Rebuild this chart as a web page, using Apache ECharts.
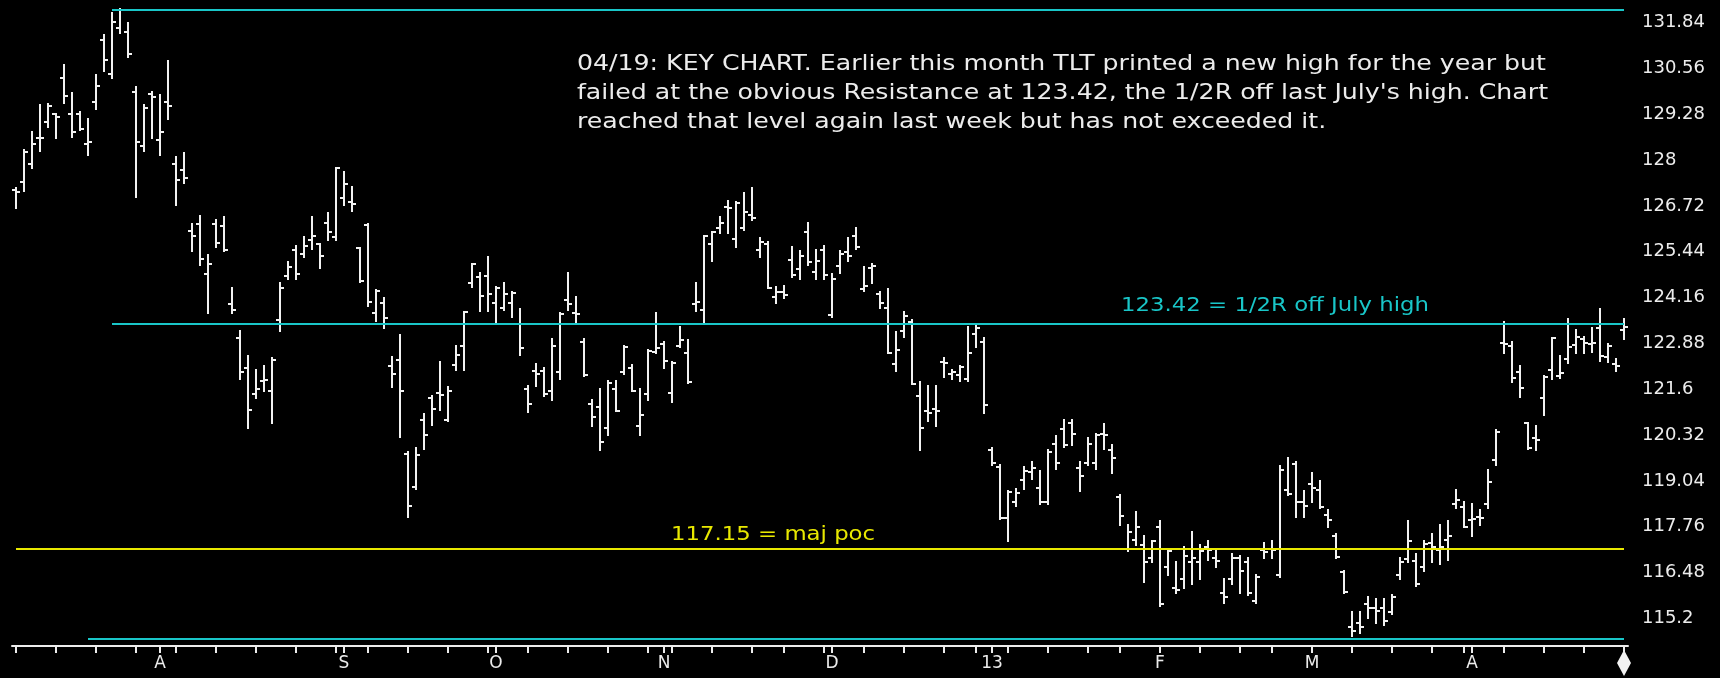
<!DOCTYPE html>
<html>
<head>
<meta charset="utf-8">
<title>TLT daily</title>
<script src="https://cdn.jsdelivr.net/npm/echarts@6/dist/echarts.min.js"></script>
<style>
  html, body { margin: 0; padding: 0; background: #000; }
  #chart { width: 1720px; height: 678px; }
</style>
</head>
<body>
<div id="chart"></div>
<script>
// Trading sessions shown on the chart, month by month, with the label printed under each month start
const sessionMonths = [
  ['2012-07', '',   [6,9,10,11,12,13,16,17,18,19,20,23,24,25,26,27,30,31]],
  ['2012-08', 'A',  [1,2,3,6,7,8,9,10,13,14,15,16,17,20,21,22,23,24,27,28,29,30,31]],
  ['2012-09', 'S',  [4,5,6,7,10,11,12,13,14,17,18,19,20,21,24,25,26,27,28]],
  ['2012-10', 'O',  [1,2,3,4,5,8,9,10,11,12,15,16,17,18,19,22,23,24,25,26,31]],
  ['2012-11', 'N',  [1,2,5,6,7,8,9,12,13,14,15,16,19,20,21,23,26,27,28,29,30]],
  ['2012-12', 'D',  [3,4,5,6,7,10,11,12,13,14,17,18,19,20,21,24,26,27,28,31]],
  ['2013-01', '13', [2,3,4,7,8,9,10,11,14,15,16,17,18,22,23,24,25,28,29,30,31]],
  ['2013-02', 'F',  [1,4,5,6,7,8,11,12,13,14,15,19,20,21,22,25,26,27,28]],
  ['2013-03', 'M',  [1,4,5,6,7,8,11,12,13,14,15,18,19,20,21,22,25,26,27,28]],
  ['2013-04', 'A',  [1,2,3,4,5,8,9,10,11,12,15,16,17,18,19,22,23,24,25,26]]
];

// Daily bars, one entry per session: [open, high, low, close]
const ohlc = [
  [127.16,127.23,126.65,127.12],[127.40,128.28,127.14,128.23],[127.89,128.79,127.77,128.45],[128.61,129.53,128.26,128.63],
  [129.07,129.57,128.93,129.51],[129.29,129.30,128.61,129.19],[130.30,130.65,129.60,129.80],[129.29,129.86,128.65,128.77],
  [129.30,129.34,128.84,128.86],[128.45,129.14,128.14,128.51],[129.63,130.38,129.42,130.07],[131.35,131.49,130.50,130.79],
  [130.40,132.10,130.28,131.86],[131.68,132.21,131.54,132.19],[131.59,131.82,130.89,130.96],[129.91,130.03,126.98,128.51],
  [128.40,129.53,128.26,129.46],[129.84,129.91,128.61,129.75],[128.56,129.82,128.14,128.79],[129.63,130.77,129.16,129.51],
  [127.89,128.08,126.74,127.44],[127.72,128.19,127.37,127.49],[126.02,126.21,125.47,125.88],[126.21,126.45,125.07,125.23],
  [124.82,125.34,123.72,125.10],[126.21,126.32,125.58,125.69],[126.16,126.40,125.47,125.49],[123.98,124.44,123.74,123.81],
  [123.03,123.22,121.90,122.08],[122.18,122.54,120.51,121.02],[121.46,122.14,121.36,121.62],[121.84,122.26,121.54,121.87],
  [121.54,122.47,120.66,122.42],[123.53,124.56,123.23,124.44],[124.76,125.16,124.67,125.00],[125.49,125.60,124.67,124.82],
  [125.37,125.84,125.30,125.60],[125.77,126.40,125.51,125.88],[125.65,125.67,124.98,125.32],[126.25,126.51,125.77,126.00],
  [125.84,127.79,125.77,127.77],[126.93,127.68,126.75,127.33],[126.84,127.24,126.59,126.76],[125.54,125.55,124.59,124.63],
  [126.19,126.22,123.92,124.05],[123.72,124.37,123.51,124.35],[124.02,124.16,123.30,123.58],[122.25,122.49,121.67,122.03],
  [122.41,123.11,120.27,121.56],[119.79,119.85,118.04,118.34],[118.88,119.97,118.82,119.76],[120.73,120.90,119.93,120.33],
  [121.36,121.42,120.61,121.06],[121.50,122.35,121.02,121.44],[120.75,121.66,120.70,121.56],[122.29,122.81,122.14,122.57],
  [122.81,123.77,122.14,123.75],[124.58,125.10,124.46,125.10],[124.74,124.84,123.79,124.21],[124.76,125.28,123.79,124.26],
  [124.00,124.46,123.44,124.44],[123.86,124.56,123.81,124.26],[124.00,124.32,123.63,124.30],[123.42,123.83,122.56,122.74],
  [121.60,121.68,120.96,121.18],[122.10,122.30,121.68,122.02],[122.11,122.18,121.42,121.48],[121.54,122.99,121.30,122.81],
  [122.08,123.72,121.90,123.70],[124.09,124.84,123.81,123.98],[123.74,124.17,123.44,123.70],[122.93,123.00,121.97,122.01],
  [121.18,121.30,120.57,120.82],[121.10,121.60,119.91,120.13],[120.51,121.84,120.33,121.78],[121.60,121.84,120.99,120.99],
  [122.08,122.81,122.02,122.77],[122.20,122.29,121.54,121.56],[120.57,121.60,120.33,120.88],[121.46,122.69,121.30,122.66],
  [122.65,123.72,122.60,122.74],[122.85,122.93,122.20,122.40],[121.50,122.35,121.24,122.32],[122.82,123.33,122.79,122.97],
  [122.60,122.97,121.78,121.80],[123.98,124.56,123.79,124.03],[123.81,125.88,123.44,125.88],[125.66,126.00,125.19,126.00],
  [126.09,126.40,125.97,126.23],[126.70,126.86,125.97,126.65],[125.79,126.84,125.58,126.79],[126.09,127.07,126.05,126.56],
  [126.46,127.23,126.33,126.37],[125.49,125.83,125.30,125.72],[125.67,125.72,124.42,124.44],[124.18,124.46,124.02,124.32],
  [124.32,124.48,124.14,124.23],[125.21,125.56,124.74,124.79],[124.97,125.46,124.69,125.32],[126.00,126.23,125.07,125.16],
  [124.88,125.49,124.67,125.19],[125.49,125.60,124.69,124.79],[123.67,124.83,123.62,124.69],[125.04,125.46,124.85,125.39],
  [125.44,125.83,125.19,125.32],[125.88,126.11,125.53,125.58],[124.41,125.00,124.35,124.48],[124.98,125.11,124.57,125.04],
  [124.27,124.32,123.86,124.01],[123.88,124.39,122.60,122.62],[122.30,123.20,122.11,122.69],[123.23,123.76,123.06,123.64],
  [123.48,123.53,121.74,121.76],[121.42,121.80,119.91,120.51],[121.00,121.70,120.70,120.93],[121.06,121.70,120.57,121.00],
  [122.37,122.46,121.93,122.32],[122.02,122.15,121.90,122.09],[121.99,122.25,121.84,122.23],[121.90,123.33,121.84,122.62],
  [123.14,123.42,122.79,123.30],[122.93,123.02,120.94,121.16],[119.91,119.97,119.49,119.55],[119.43,119.49,117.98,118.00],
  [118.00,118.76,117.37,118.73],[118.46,118.82,118.34,118.70],[119.06,119.43,118.82,119.31],[119.28,119.57,119.09,119.40],
  [118.85,119.31,118.40,118.46],[118.46,119.91,118.40,119.85],[120.07,120.29,119.36,119.54],[120.50,120.75,119.99,120.04],
  [120.66,120.74,120.04,120.34],[119.39,119.57,118.76,119.17],[119.54,120.24,119.48,120.07],[119.54,120.36,119.36,120.32],
  [120.35,120.64,119.94,120.32],[119.90,120.04,119.27,119.67],[118.58,118.64,117.80,118.07],[117.15,117.80,117.07,117.62],
  [117.40,118.16,117.25,117.74],[117.25,117.50,116.23,116.77],[116.89,117.37,116.77,117.37],[117.76,117.92,115.56,115.59],
  [116.65,117.13,116.41,117.07],[116.05,116.77,115.92,115.99],[116.29,117.19,116.05,116.95],[116.77,117.62,116.17,116.89],
  [116.77,117.25,116.29,117.07],[117.20,117.37,116.83,117.10],[116.90,117.07,116.65,116.80],[115.90,116.29,115.62,115.80],
  [116.29,117.01,116.17,116.89],[116.89,116.95,115.92,116.53],[116.77,116.89,115.86,115.92],[115.68,116.41,115.62,116.35],
  [117.10,117.31,116.89,117.05],[117.15,117.37,116.89,117.10],[116.41,119.45,116.35,119.34],[118.80,119.68,118.64,118.67],
  [119.50,119.57,118.04,118.44],[118.45,118.75,118.04,118.35],[118.95,119.25,118.46,118.85],[118.80,119.03,118.28,118.30],
  [118.10,118.22,117.74,117.95],[117.50,117.56,116.89,116.91],[116.50,116.53,115.92,115.95],[114.95,115.38,114.72,114.85],
  [115.08,115.38,114.78,114.95],[115.60,115.80,115.20,115.50],[115.50,115.74,115.08,115.40],[115.50,115.74,115.02,115.14],
  [115.38,115.86,115.32,115.80],[116.40,116.89,116.29,116.77],[116.85,117.92,116.77,117.37],[116.80,117.01,116.11,116.17],
  [116.65,117.37,116.53,117.28],[117.30,117.56,116.77,117.20],[117.10,117.80,116.71,117.20],[117.40,117.92,116.83,117.50],
  [118.40,118.78,118.28,118.50],[118.30,118.46,117.74,117.76],[117.95,118.40,117.50,117.98],[118.04,118.22,117.80,118.00],
  [118.40,119.34,118.28,119.02],[119.63,120.46,119.49,120.42],[122.90,123.49,122.62,122.87],[122.80,122.93,121.79,121.91],
  [122.09,122.25,121.39,121.63],[120.65,120.67,119.93,119.95],[120.23,120.56,119.89,120.18],[121.35,121.97,120.88,121.95],
  [122.14,123.04,121.88,123.02],[121.98,122.53,121.91,122.05],[122.44,123.55,122.34,122.79],[122.84,123.26,122.60,123.07],
  [122.99,123.07,122.62,122.90],[122.85,123.32,122.65,122.90],[123.30,123.83,122.40,122.53],[122.50,122.87,122.37,122.81],
  [122.30,122.44,122.12,122.25],[123.26,123.55,123.00,123.35]
];

// Price scale labels on the right
const priceTicks = [115.2, 116.48, 117.76, 119.04, 120.32, 121.6, 122.88, 124.16, 125.44, 126.72, 128, 129.28, 130.56, 131.84];

// Reference levels: July high, mid-range (1/2R), low, and the major point of control
const julyHigh = 132.2;
const halfRange = 123.42;
const rangeLow = 114.64;
const majPoc = 117.15;

const noteLines = [
  "04/19: KEY CHART. Earlier this month TLT printed a new high for the year but",
  "failed at the obvious Resistance at 123.42, the 1/2R off last July's high. Chart",
  "reached that level again last week but has not exceeded it."
];
const halfRangeLabel = '123.42 = 1/2R off July high';
const pocLabel = '117.15 = maj poc';

// ---- build categories, month starts and weekly tick positions ----
const dates = [];
const monthStartLabel = {};
sessionMonths.forEach(([ym, label, days]) => {
  days.forEach((d, k) => {
    if (k === 0 && label) monthStartLabel[dates.length] = label;
    dates.push(ym + '-' + String(d).padStart(2, '0'));
  });
});
const tickIdx = new Set(Object.keys(monthStartLabel).map(Number));
for (let i = 0; i < dates.length; i++) {
  const d = new Date(dates[i] + 'T00:00:00Z');
  if (i === dates.length - 1) { tickIdx.add(i); continue; }
  const n = new Date(dates[i + 1] + 'T00:00:00Z');
  if (n.getUTCDay() <= d.getUTCDay() || (n - d) >= 7 * 86400000) tickIdx.add(i);
}

const barData = ohlc.map((r, i) => [i, r[0], r[1], r[2], r[3]]);

const FONT = 'DejaVu Sans';
const CYAN = '#19c6c8';
const YELLOW = '#e8e800';
const INK = '#ececec';

const chart = echarts.init(document.getElementById('chart'), null, { renderer: 'canvas' });

function levelLine(value, fromIdx, color) {
  return [{ coord: [fromIdx, value], lineStyle: { color: color, width: 2, type: 'solid' } },
          { coord: [dates.length - 1, value] }];
}

chart.setOption({
  backgroundColor: '#000000',
  animation: false,
  textStyle: { fontFamily: FONT },
  grid: { left: 12, right: 92, top: 0, bottom: 32 },
  xAxis: {
    type: 'category',
    data: dates,
    boundaryGap: true,
    axisLine: { show: true, lineStyle: { color: INK, width: 2 } },
    axisTick: {
      show: true,
      alignWithLabel: true,
      length: 7,
      lineStyle: { color: INK, width: 2 },
      interval: (idx) => tickIdx.has(idx)
    },
    axisLabel: {
      interval: (idx) => monthStartLabel[idx] !== undefined,
      formatter: (val, idx) => monthStartLabel[idx] || '',
      color: INK,
      fontFamily: FONT,
      fontSize: 17,
      margin: 9
    },
    splitLine: { show: false }
  },
  yAxis: {
    type: 'value',
    position: 'right',
    min: 114.43,
    max: 132.47,
    axisLine: { show: false },
    axisTick: { show: false },
    splitLine: { show: false },
    axisLabel: {
      customValues: priceTicks,
      formatter: (v) => String(Math.round(v * 100) / 100),
      color: INK,
      fontFamily: FONT,
      fontSize: 18,
      margin: 14
    }
  },
  series: [{
    type: 'custom',
    name: 'TLT',
    data: barData,
    encode: { x: 0, y: [1, 2, 3, 4] },
    renderItem: function (params, api) {
      const idx = api.value(0);
      const px = Math.round(api.coord([idx, api.value(2)])[0]);
      const yo = Math.round(api.coord([idx, api.value(1)])[1]);
      const yh = Math.round(api.coord([idx, api.value(2)])[1]);
      const yl = Math.round(api.coord([idx, api.value(3)])[1]);
      const yc = Math.round(api.coord([idx, api.value(4)])[1]);
      const arm = 4;
      const st = { stroke: '#f2f2f2', lineWidth: 2 };
      return {
        type: 'group',
        children: [
          { type: 'line', shape: { x1: px, y1: yh - 1, x2: px, y2: yl + 1 }, style: st },
          { type: 'line', shape: { x1: px - arm, y1: yo, x2: px, y2: yo }, style: st },
          { type: 'line', shape: { x1: px, y1: yc, x2: px + arm, y2: yc }, style: st }
        ]
      };
    },
    markLine: {
      silent: true,
      symbol: 'none',
      label: { show: false },
      data: [
        levelLine(julyHigh, 12, CYAN),
        levelLine(halfRange, 12, CYAN),
        levelLine(rangeLow, 9, CYAN),
        levelLine(majPoc, 0, YELLOW)
      ]
    },
    z: 3
  }]
});

// Annotations and the end-of-data marker
const lastPt = chart.convertToPixel({ xAxisIndex: 0, yAxisIndex: 0 }, [dates.length - 1, 114.43]);
const hrY = chart.convertToPixel({ yAxisIndex: 0 }, halfRange);
const pocY = chart.convertToPixel({ yAxisIndex: 0 }, majPoc);
chart.setOption({
  graphic: [
    {
      type: 'text', x: 577, y: 50, scaleX: 1.2,
      style: { text: noteLines.join('\n'), fill: INK, font: '21px ' + FONT, lineHeight: 29 }
    },
    {
      type: 'text', x: 1121, y: hrY - 8, scaleX: 1.14,
      style: { text: halfRangeLabel, fill: CYAN, font: '20px ' + FONT, textVerticalAlign: 'bottom' }
    },
    {
      type: 'text', x: 671, y: pocY - 4, scaleX: 1.14,
      style: { text: pocLabel, fill: YELLOW, font: '20px ' + FONT, textVerticalAlign: 'bottom' }
    },
    {
      type: 'polygon',
      shape: { points: [[lastPt[0], lastPt[1] + 4], [lastPt[0] + 7, lastPt[1] + 17], [lastPt[0], lastPt[1] + 30], [lastPt[0] - 7, lastPt[1] + 17]] },
      style: { fill: '#f2f2f2' }
    }
  ]
});
</script>
</body>
</html>
